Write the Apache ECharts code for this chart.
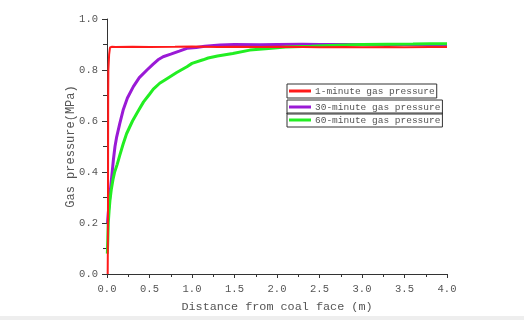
<!DOCTYPE html>
<html><head><meta charset="utf-8">
<script src="https://cdn.jsdelivr.net/npm/echarts@6/dist/echarts.min.js"></script>
<style>html,body{margin:0;padding:0;background:#fff}#c{width:524px;height:320px}</style>
</head><body><div id="c"></div>
<script>
const xTicks = ['0.0','0.5','1.0','1.5','2.0','2.5','3.0','3.5','4.0'];
const yTicks = ['0.0','0.2','0.4','0.6','0.8','1.0'];
const seriesNames = ['1-minute gas pressure','30-minute gas pressure','60-minute gas pressure'];

const redX = [0.008, 0.01, 0.012, 0.013, 0.014, 0.016, 0.025, 0.035, 0.06, 0.1, 0.3, 0.5, 0.8, 1.0, 1.3, 1.5, 1.8, 2.0, 2.3, 2.5, 2.8, 3.0, 3.3, 3.5, 3.8, 4.0];
const redY = [0.0, 0.1, 0.3, 0.5, 0.7, 0.8, 0.86, 0.888, 0.891, 0.89, 0.891, 0.89, 0.891, 0.892, 0.89, 0.891, 0.89, 0.891, 0.89, 0.889, 0.89, 0.889, 0.89, 0.889, 0.89, 0.89];

const purpleX = [0.006, 0.015, 0.027, 0.04, 0.055, 0.075, 0.094, 0.114, 0.15, 0.19, 0.24, 0.31, 0.38, 0.47, 0.54, 0.6, 0.66, 0.75, 0.85, 0.94, 1.05, 1.15, 1.33, 1.5, 1.8, 2.0, 2.3, 2.5, 2.8, 3.0, 3.3, 3.5, 3.8, 4.0];
const purpleY = [0.2, 0.24, 0.28, 0.33, 0.38, 0.447, 0.5, 0.538, 0.59, 0.643, 0.69, 0.735, 0.77, 0.8, 0.822, 0.84, 0.852, 0.862, 0.874, 0.885, 0.888, 0.893, 0.898, 0.9, 0.899, 0.9, 0.901, 0.9, 0.9, 0.899, 0.9, 0.9, 0.9, 0.9];

const greenX = [0.004, 0.01, 0.015, 0.025, 0.035, 0.05, 0.07, 0.09, 0.12, 0.15, 0.19, 0.23, 0.3, 0.36, 0.43, 0.5, 0.545, 0.62, 0.7, 0.82, 0.94, 1.0, 1.13, 1.19, 1.3, 1.48, 1.68, 1.9, 2.1, 2.4, 2.7, 3.0, 3.3, 3.6, 3.8, 4.0];
const greenY = [0.08, 0.14, 0.2, 0.25, 0.29, 0.33, 0.37, 0.4, 0.43, 0.465, 0.51, 0.55, 0.6, 0.635, 0.675, 0.705, 0.725, 0.748, 0.765, 0.79, 0.813, 0.826, 0.84, 0.847, 0.855, 0.865, 0.878, 0.884, 0.89, 0.893, 0.897, 0.9, 0.901, 0.902, 0.903, 0.903];

const zip = (xs, ys) => xs.map((x, i) => [x, ys[i]]);
const FONT = '"Liberation Mono", monospace';
const TXT = '#555';

const chart = echarts.init(document.getElementById('c'), null, {renderer: 'canvas'});
const legendBase = {
  orient: 'vertical', left: 287, borderColor: '#333', borderWidth: 1,
  padding: [1, 2, 1, 2], itemWidth: 22, itemHeight: 3, icon: 'rect', itemGap: 0,
  textStyle: {fontFamily: FONT, fontSize: 9.5, lineHeight: 12, color: TXT, padding: [0, 0, 0, -1]}
};
chart.setOption({
  animation: false,
  backgroundColor: '#fff',
  graphic: [{type: 'rect', left: 0, bottom: 0, shape: {width: 524, height: 4}, style: {fill: '#eeeeee'}, silent: true}],
  grid: {left: 107, right: 77, top: 19, bottom: 46},
  legend: [
    Object.assign({}, legendBase, {top: 84, data: [seriesNames[0]]}),
    Object.assign({}, legendBase, {top: 100, data: [seriesNames[1]]}),
    Object.assign({}, legendBase, {top: 113, data: [seriesNames[2]]})
  ],
  xAxis: {
    type: 'value', min: 0, max: 4, interval: 0.5,
    name: 'Distance from coal face (m)', nameLocation: 'middle', nameGap: 27, nameMoveOverlap: false,
    nameTextStyle: {fontFamily: FONT, fontSize: 11.8, color: TXT},
    axisLine: {show: true, onZero: false, lineStyle: {color: '#333', width: 1}},
    axisTick: {show: true, inside: false, length: 4, lineStyle: {color: '#333'}},
    minorTick: {show: true, splitNumber: 2, length: 3, lineStyle: {color: '#333'}},
    axisLabel: {fontFamily: FONT, fontSize: 10.5, color: TXT, margin: 10,
      formatter: v => xTicks[Math.round(v / 0.5)] || ''},
    splitLine: {show: false}
  },
  yAxis: {
    type: 'value', min: 0, max: 1, interval: 0.2,
    name: 'Gas pressure(MPa)', nameLocation: 'middle', nameGap: 30, nameRotate: 90, nameMoveOverlap: false,
    nameTextStyle: {fontFamily: FONT, fontSize: 12, color: TXT},
    axisLine: {show: true, onZero: false, lineStyle: {color: '#333', width: 1}},
    axisTick: {show: true, inside: false, length: 5, lineStyle: {color: '#333'}},
    minorTick: {show: true, splitNumber: 2, length: 4, lineStyle: {color: '#333'}},
    axisLabel: {fontFamily: FONT, fontSize: 10.5, color: TXT, margin: 9,
      formatter: v => yTicks[Math.round(v / 0.2)] || ''},
    splitLine: {show: false}
  },
  series: [
    {name: seriesNames[0], type: 'line', data: zip(redX, redY), showSymbol: false, z: 4,
     lineStyle: {color: '#ff1a1a', width: 2}, itemStyle: {color: '#ff1a1a'}},
    {name: seriesNames[1], type: 'line', data: zip(purpleX, purpleY), showSymbol: false, z: 2,
     lineStyle: {color: '#9a1ad6', width: 3}, itemStyle: {color: '#9a1ad6'}},
    {name: seriesNames[2], type: 'line', data: zip(greenX, greenY), showSymbol: false, z: 3,
     lineStyle: {color: '#22ee22', width: 3}, itemStyle: {color: '#22ee22'}}
  ]
});
</script></body></html>
